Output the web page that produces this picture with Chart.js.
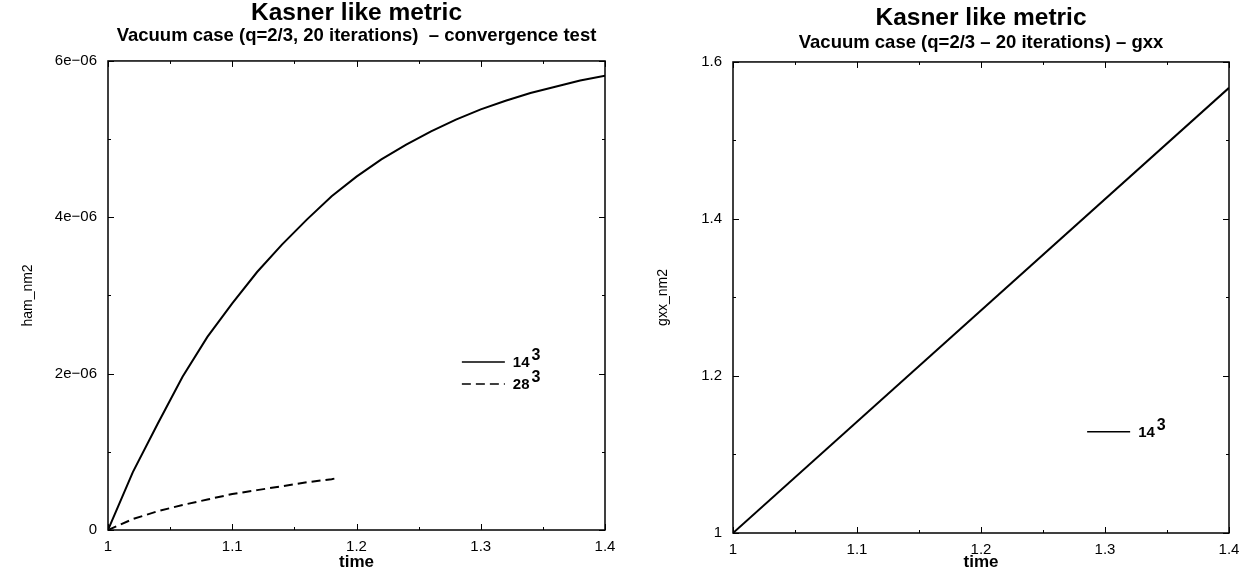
<!DOCTYPE html>
<html>
<head>
<meta charset="utf-8">
<script src="https://cdn.jsdelivr.net/npm/chart.js@4.4.0/dist/chart.umd.min.js"></script>
<style>
  html, body { margin: 0; padding: 0; background: #fff; }
  .box { position: absolute; top: 0; width: 627px; height: 572px; }
  #left { left: 0; }
  #right { left: 627px; }
</style>
</head>
<body>
<div class="box" id="left"><canvas id="chart1"></canvas></div>
<div class="box" id="right"><canvas id="chart2"></canvas></div>
<script>
// left panel: hamiltonian constraint norm
const time14 = [1.00, 1.02, 1.04, 1.06, 1.08, 1.10, 1.12, 1.14, 1.16, 1.18, 1.20,
                1.22, 1.24, 1.26, 1.28, 1.30, 1.32, 1.34, 1.36, 1.38, 1.40];
const ham14 = [0, 0.74e-6, 1.36e-6, 1.96e-6, 2.47e-6, 2.90e-6, 3.30e-6, 3.65e-6, 3.97e-6, 4.27e-6, 4.52e-6,
               4.74e-6, 4.93e-6, 5.10e-6, 5.25e-6, 5.38e-6, 5.49e-6, 5.59e-6, 5.67e-6, 5.75e-6, 5.81e-6];
const time28 = [1.00, 1.02, 1.04, 1.06, 1.08, 1.10, 1.12, 1.14, 1.16, 1.18, 1.186];
const ham28 = [0, 0.14e-6, 0.24e-6, 0.32e-6, 0.39e-6, 0.46e-6, 0.51e-6, 0.56e-6, 0.61e-6, 0.65e-6, 0.67e-6];

// right panel: gxx norm
const timeGxx = [1.00, 1.40];
const gxx14 = [1.00, 1.567];

// axis ticks
const xTicks = [1, 1.1, 1.2, 1.3, 1.4];
const xTickLabels = ['1', '1.1', '1.2', '1.3', '1.4'];
const xMinor = [1.05, 1.15, 1.25, 1.35];
const hamTicks = [0, 2e-6, 4e-6, 6e-6];
const hamTickLabels = ['0', '2e\u221206', '4e\u221206', '6e\u221206'];
const hamMinor = [1e-6, 3e-6, 5e-6];
const gxxTicks = [1, 1.2, 1.4, 1.6];
const gxxTickLabels = ['1', '1.2', '1.4', '1.6'];
const gxxMinor = [1.1, 1.3, 1.5];

const FONT = '"Liberation Sans", Arial, Helvetica, sans-serif';

function pts(xs, ys) {
    return xs.map((x, i) => ({x: x, y: ys[i]}));
}

// frame with inward ticks on all four sides
const boxTicks = {
    id: 'boxTicks',
    afterDatasetsDraw(chart, args, opts) {
        const ctx = chart.ctx;
        const a = chart.chartArea;
        const sx = chart.scales.x, sy = chart.scales.y;
        ctx.save();
        ctx.strokeStyle = '#000';
        ctx.lineWidth = 1.5;
        ctx.strokeRect(a.left, a.top, a.right - a.left, a.bottom - a.top);
        ctx.lineWidth = 1;
        ctx.beginPath();
        const xt = (v, len) => {
            const p = Math.round(sx.getPixelForValue(v)) + 0.5;
            ctx.moveTo(p, a.bottom); ctx.lineTo(p, a.bottom - len);
            ctx.moveTo(p, a.top); ctx.lineTo(p, a.top + len);
        };
        const yt = (v, len) => {
            const p = Math.round(sy.getPixelForValue(v)) + 0.5;
            ctx.moveTo(a.left, p); ctx.lineTo(a.left + len, p);
            ctx.moveTo(a.right, p); ctx.lineTo(a.right - len, p);
        };
        opts.xMajor.forEach(v => xt(v, 6));
        opts.xMinor.forEach(v => xt(v, 3));
        opts.yMajor.forEach(v => yt(v, 6));
        opts.yMinor.forEach(v => yt(v, 3));
        ctx.stroke();
        ctx.restore();
    }
};

// legend inside the plot, with superscript exponent
const boxLegend = {
    id: 'boxLegend',
    afterDatasetsDraw(chart, args, opts) {
        const ctx = chart.ctx;
        const a = chart.chartArea;
        const x0 = a.left + opts.x * (a.right - a.left);
        let y = a.top + opts.y * (a.bottom - a.top);
        ctx.save();
        chart.data.datasets.forEach(ds => {
            ctx.strokeStyle = '#000';
            ctx.lineWidth = 1.5;
            ctx.setLineDash(ds.borderDash || []);
            ctx.beginPath();
            ctx.moveTo(x0, y);
            ctx.lineTo(x0 + 43, y);
            ctx.stroke();
            ctx.setLineDash([]);
            const base = ds.label.replace('\u00b3', '');
            ctx.fillStyle = '#000';
            ctx.font = 'bold 15px ' + FONT;
            ctx.textBaseline = 'middle';
            ctx.fillText(base, x0 + 51, y + 1);
            const w = ctx.measureText(base).width;
            if (ds.label.indexOf('\u00b3') >= 0) {
                ctx.font = 'bold 16px ' + FONT;
                ctx.fillText('3', x0 + 51 + w + opts.supGap, y - 6);
            }
            y += 22;
        });
        ctx.restore();
    }
};

function makeChart(id, cfg) {
    return new Chart(document.getElementById(id), {
        type: 'line',
        data: {datasets: cfg.datasets},
        plugins: [boxTicks, boxLegend],
        options: {
            responsive: true,
            maintainAspectRatio: false,
            animation: false,
            layout: {padding: {left: 0, right: cfg.padRight, top: 0, bottom: 0}},
            elements: {point: {radius: 0}, line: {tension: 0}},
            plugins: {
                legend: {display: false},
                tooltip: {enabled: false},
                title: {
                    display: true, text: 'Kasner like metric', fullSize: false, color: '#000',
                    font: {family: FONT, size: 24.5, weight: 'bold', lineHeight: 1},
                    padding: {top: cfg.titleTop, bottom: 0}
                },
                subtitle: {
                    display: true, text: cfg.subtitle, fullSize: false, color: '#000',
                    font: {family: FONT, size: 18.5, weight: 'bold', lineHeight: 1.1},
                    padding: {top: cfg.subTop, bottom: cfg.subBottom}
                },
                boxTicks: {xMajor: xTicks, xMinor: xMinor, yMajor: cfg.yTicks, yMinor: cfg.yMinor},
                boxLegend: {x: cfg.legendX, y: cfg.legendY, supGap: cfg.supGap}
            },
            scales: {
                x: {
                    type: 'linear', min: 1, max: 1.4,
                    afterBuildTicks: s => { s.ticks = xTicks.map(v => ({value: v})); },
                    afterFit: s => { s.height = cfg.xHeight; },
                    grid: {display: false, drawTicks: false},
                    border: {display: false},
                    ticks: {
                        autoSkip: false, maxRotation: 0, padding: 8, color: '#000',
                        font: {family: FONT, size: 15},
                        callback: (v, i) => xTickLabels[i]
                    },
                    title: {
                        display: true, text: 'time', color: '#000',
                        font: {family: FONT, size: 17, weight: 'bold', lineHeight: 1},
                        padding: {top: 0, bottom: cfg.timeBottom}
                    }
                },
                y: {
                    type: 'linear', min: cfg.yTicks[0], max: cfg.yTicks[cfg.yTicks.length - 1],
                    afterBuildTicks: s => { s.ticks = cfg.yTicks.map(v => ({value: v})); },
                    afterFit: s => { s.width = cfg.yWidth; },
                    grid: {display: false, drawTicks: false},
                    border: {display: false},
                    ticks: {
                        autoSkip: false, padding: 11, color: '#000',
                        font: {family: FONT, size: 15},
                        callback: (v, i) => cfg.yLabels[i]
                    },
                    title: {
                        display: true, text: cfg.yTitle, color: '#000',
                        font: {family: FONT, size: 14, lineHeight: 1.2},
                        padding: {top: cfg.yTitlePad, bottom: 0}
                    }
                }
            }
        }
    });
}

makeChart('chart1', {
    datasets: [
        {label: '14\u00b3', data: pts(time14, ham14), borderColor: '#000', borderWidth: 2},
        {label: '28\u00b3', data: pts(time28, ham28), borderColor: '#000', borderWidth: 2, borderDash: [9, 5]}
    ],
    subtitle: 'Vacuum case (q=2/3, 20 iterations)  \u2013 convergence test',
    yTicks: hamTicks, yLabels: hamTickLabels, yMinor: hamMinor, yTitle: 'ham_nm2',
    padRight: 22, yWidth: 108, xHeight: 42, titleTop: 1, subTop: 0, subBottom: 15.1,
    timeBottom: 1.5, yTitlePad: 20, legendX: 0.712, legendY: 0.642, supGap: 2
});

makeChart('chart2', {
    datasets: [
        {label: '14\u00b3', data: pts(timeGxx, gxx14), borderColor: '#000', borderWidth: 2}
    ],
    subtitle: 'Vacuum case (q=2/3 \u2013 20 iterations) \u2013 gxx',
    yTicks: gxxTicks, yLabels: gxxTickLabels, yMinor: gxxMinor, yTitle: 'gxx_nm2',
    padRight: 25, yWidth: 106, xHeight: 39, titleTop: 6, subTop: 2, subBottom: 9.1,
    timeBottom: 1, yTitlePad: 28, legendX: 0.714, legendY: 0.785, supGap: 2
});
</script>
</body>
</html>
